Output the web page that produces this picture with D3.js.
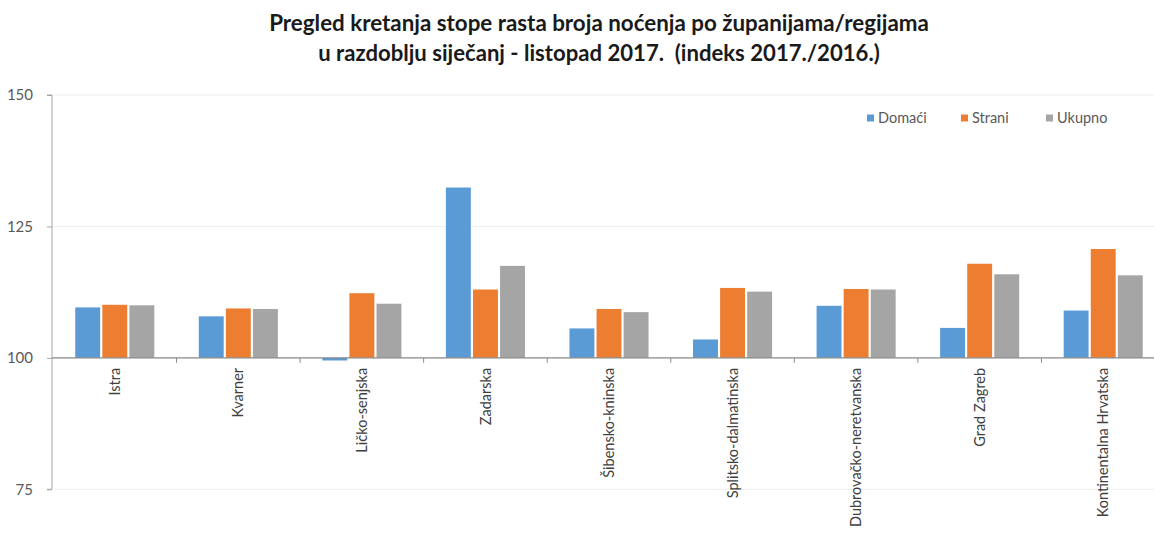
<!DOCTYPE html>
<html><head><meta charset="utf-8">
<script src="https://cdn.jsdelivr.net/npm/d3@7"></script>
<style>
html,body{margin:0;padding:0;background:#fff;}
svg{display:block;font-family:Lato,"Open Sans",sans-serif;}
</style></head>
<body><svg id="chart" width="1154" height="539"></svg>
<script>
const categories = ["Istra","Kvarner","Ličko-senjska","Zadarska","Šibensko-kninska","Splitsko-dalmatinska","Dubrovačko-neretvanska","Grad Zagreb","Kontinentalna Hrvatska"];
const seriesNames = ["Domaći","Strani","Ukupno"];
const domaci = [109.6,107.9,99.5,132.4,105.6,103.5,109.9,105.7,109.0];
const strani = [110.1,109.4,112.3,113.0,109.3,113.3,113.1,117.9,120.7];
const ukupno = [110.0,109.3,110.3,117.5,108.7,112.6,113.0,115.9,115.7];
const yTicks = [75,100,125,150];
const titleLines = ["Pregled kretanja stope rasta broja noćenja po županijama/regijama","u razdoblju siječanj - listopad 2017.  (indeks 2017./2016.)"];

const colors = ["#5B9BD5","#ED7D31","#A5A5A5"];
const seriesValues = [domaci, strani, ukupno];
const svg = d3.select("#chart");

const x0 = d3.scaleBand().domain(categories).range([53, 1165]).paddingInner(0.36).paddingOuter(0.18);
const x1 = d3.scaleBand().domain(seriesNames).range([0, x0.bandwidth()]).paddingInner(0.08);
const y = d3.scaleLinear().domain([75,150]).range([489.3, 95]);
const color = d3.scaleOrdinal().domain(seriesNames).range(colors);

// gridlines
svg.append("g").selectAll("line").data(yTicks).join("line")
  .attr("x1", 53).attr("x2", 1154)
  .attr("y1", d=>y(d)).attr("y2", d=>y(d))
  .attr("stroke", "#eeeeee").attr("stroke-width", 1);

// y axis
const yAxis = svg.append("g").attr("transform","translate(52,0)")
  .call(d3.axisLeft(y).tickValues(yTicks).tickSize(5).tickPadding(14).tickFormat(d3.format("d")));
yAxis.select(".domain").attr("stroke","#a6a6a6").attr("d", `M-5,${y(150)}H0V${y(75)}H-5`);
yAxis.selectAll(".tick line").attr("stroke","#a6a6a6");
yAxis.selectAll(".tick text").attr("fill","#595959").style("font-size","15px").style("font-family","Lato,'Open Sans',sans-serif");

// bars
const groups = svg.append("g").selectAll("g").data(categories).join("g")
  .attr("transform", d=>`translate(${x0(d)},0)`);
groups.selectAll("rect")
  .data((c,i)=>seriesNames.map((s,j)=>({s, v: seriesValues[j][i]})))
  .join("rect")
  .attr("x", d=>x1(d.s))
  .attr("width", x1.bandwidth())
  .attr("y", d=>Math.min(y(d.v), y(100)))
  .attr("height", d=>Math.abs(y(100)-y(d.v)))
  .attr("fill", d=>color(d.s));

// category axis at 100
const xAxis = svg.append("g").attr("transform",`translate(0,${y(100)})`);
xAxis.append("line").attr("x1",52).attr("x2",1154).attr("y1",0).attr("y2",0).attr("stroke","#8c8c8c").attr("stroke-width",1.2);
const step = x0.step();
const boundaries = categories.map(c => x0(c) - x0.paddingInner()*step/2).concat([x0(categories[categories.length-1]) + x0.bandwidth() + x0.paddingInner()*step/2]);
xAxis.selectAll("line.sep").data(boundaries.slice(1)).join("line").attr("class","sep")
  .attr("x1",d=>d).attr("x2",d=>d).attr("y1",0).attr("y2",5).attr("stroke","#8c8c8c");
xAxis.selectAll("text").data(categories).join("text")
  .attr("transform", d=>`translate(${x0(d)+x0.bandwidth()/2},10) rotate(-90)`)
  .attr("text-anchor","end").attr("dy","0.35em")
  .attr("fill","#404040").style("font-size","14.5px")
  .text(d=>d);

// legend
const legendX = [867, 961, 1046];
const leg = svg.append("g").selectAll("g").data(seriesNames).join("g")
  .attr("transform",(d,i)=>`translate(${legendX[i]},118)`);
leg.append("rect").attr("x",0).attr("y",-3.5).attr("width",7).attr("height",7).attr("fill",d=>color(d));
leg.append("text").attr("x",11).attr("dy","0.35em").attr("fill","#595959").style("font-size","14.5px").text(d=>d);

// title
const titleTargets = [660, 562];
const tY = [31, 61];
titleLines.forEach((t,i)=>{
  const el = svg.append("text").attr("x",599).attr("y",tY[i]).attr("text-anchor","middle")
    .attr("fill","#1a1a1a").style("font-weight","bold").style("font-size","20px")
    .style("white-space","pre").attr("xml:space","preserve").text(t);
  const w = el.node().getComputedTextLength();
  el.style("font-size", (20*titleTargets[i]/w).toFixed(2)+"px");
});
</script></body></html>
